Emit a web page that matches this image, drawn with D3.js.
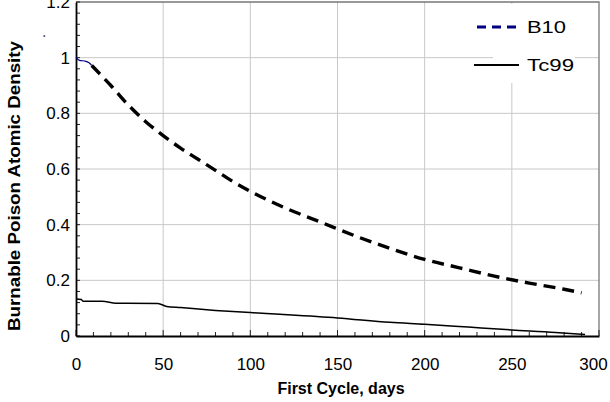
<!DOCTYPE html>
<html>
<head>
<meta charset="utf-8">
<script src="https://cdn.jsdelivr.net/npm/d3@7"></script>
<style>
body { margin: 0; background: #fff; }
svg { display: block; font-family: "Liberation Sans", Arial, sans-serif; }
</style>
</head>
<body>
<div id="chart"></div>
<script>
// B10 - thin start segment, then the thick dashed part
const b10Days = [0, 2, 5, 7.5, 9, 20, 30, 40, 50, 60, 70, 80, 90, 100, 120, 140, 160, 180, 200, 220, 240, 260, 280, 290];
const b10Vals = [1.0, 0.99, 0.988, 0.982, 0.972, 0.9, 0.83, 0.77, 0.72, 0.675, 0.635, 0.595, 0.555, 0.52, 0.46, 0.41, 0.36, 0.315, 0.275, 0.245, 0.215, 0.19, 0.168, 0.155];
const tcDays = [0, 3, 4, 15, 23, 47, 52, 60, 80, 100, 117, 150, 180, 200, 225, 250, 275, 292];
const tcVals = [0.133, 0.131, 0.125, 0.125, 0.118, 0.117, 0.106, 0.102, 0.092, 0.084, 0.078, 0.065, 0.049, 0.042, 0.032, 0.022, 0.013, 0.005];
const xTicks = [0, 50, 100, 150, 200, 250, 300];
const yTicks = [0, 0.2, 0.4, 0.6, 0.8, 1, 1.2];
const yTickLabels = ["0", "0.2", "0.4", "0.6", "0.8", "1", "1.2"];

const width = 610, height = 402;
const margin = { top: 2, right: 11, bottom: 66, left: 76 };

const svg = d3.select("#chart").append("svg")
    .attr("width", width)
    .attr("height", height);

const x = d3.scaleLinear().domain([0, 300]).range([margin.left, width - margin.right]);
const y = d3.scaleLinear().domain([0, 1.2]).range([height - margin.bottom, margin.top]);

// grid
svg.append("g").selectAll("line").data(xTicks.slice(1, -1)).join("line")
    .attr("x1", d => x(d)).attr("x2", d => x(d))
    .attr("y1", y(0)).attr("y2", y(1.2))
    .attr("stroke", "#c8c8c8").attr("stroke-width", 1);
svg.append("g").selectAll("line").data(yTicks.slice(1, -1)).join("line")
    .attr("x1", x(0)).attr("x2", x(300))
    .attr("y1", d => y(d)).attr("y2", d => y(d))
    .attr("stroke", "#c8c8c8").attr("stroke-width", 1);

// legend background hides the grid behind it
svg.append("rect")
    .attr("x", 493).attr("y", 4).attr("width", 82).attr("height", 79)
    .attr("fill", "#fff");

// frame top/right
svg.append("path")
    .attr("d", `M${x(0)},${y(1.2)}H${x(300)}V${y(0)}`)
    .attr("fill", "none").attr("stroke", "#777").attr("stroke-width", 1.3);

// minor + major ticks, pointing inward
const xMinor = d3.range(0, 301, 10);
const yMinor = d3.range(0, 1.201, 0.04);
svg.append("g").selectAll("line").data(xMinor).join("line")
    .attr("x1", d => x(d)).attr("x2", d => x(d))
    .attr("y1", y(0)).attr("y2", d => y(0) - (d % 50 === 0 ? 6 : 4))
    .attr("stroke", "#222").attr("stroke-width", 1);
svg.append("g").selectAll("line").data(yMinor).join("line")
    .attr("y1", d => y(d)).attr("y2", d => y(d))
    .attr("x1", x(0)).attr("x2", x(0) + 4)
    .attr("stroke", "#222").attr("stroke-width", 1);

// axes
const xAxis = svg.append("g")
    .attr("transform", `translate(0,${y(0)})`)
    .call(d3.axisBottom(x).tickValues(xTicks).tickSize(0).tickPadding(22));
xAxis.select(".domain").attr("stroke", "#000").attr("stroke-width", 1.8);
xAxis.selectAll("text").attr("font-size", 17).attr("fill", "#000")
    .attr("font-family", "Liberation Sans, Arial, sans-serif");
// last label is pulled in so it stays on the page
xAxis.selectAll(".tick").filter(d => d === 300).select("text").attr("dx", -6);

const yAxis = svg.append("g")
    .attr("transform", `translate(${x(0)},0)`)
    .call(d3.axisLeft(y).tickValues(yTicks).tickFormat((d, i) => yTickLabels[i]).tickSize(0).tickPadding(6));
yAxis.select(".domain").attr("stroke", "#000").attr("stroke-width", 1.8);
yAxis.selectAll("text").attr("font-size", 17).attr("fill", "#000")
    .attr("font-family", "Liberation Sans, Arial, sans-serif");

// lines
const line = d3.line().curve(d3.curveMonotoneX).x(d => x(d[0])).y(d => y(d[1]));
const b10 = b10Days.map((d, i) => [d, b10Vals[i]]);
const tc = tcDays.map((d, i) => [d, tcVals[i]]);

svg.append("path")
    .attr("d", line(tc))
    .attr("fill", "none").attr("stroke", "#000").attr("stroke-width", 1.5);

svg.append("path")
    .attr("d", line(b10.slice(0, 5)))
    .attr("fill", "none").attr("stroke", "#000080").attr("stroke-width", 1.2);
svg.append("path")
    .attr("d", line(b10.slice(4)))
    .attr("fill", "none").attr("stroke", "#000").attr("stroke-width", 3.4)
    .attr("stroke-dasharray", "12,7");

// legend
const legend = svg.append("g");
legend.append("line")
    .attr("x1", 477).attr("x2", 520).attr("y1", 27).attr("y2", 27)
    .attr("stroke", "#000080").attr("stroke-width", 3).attr("stroke-dasharray", "9,6");
legend.append("text").attr("x", 527).attr("y", 33).attr("font-size", 16)
    .attr("textLength", 39).attr("lengthAdjust", "spacingAndGlyphs").text("B10");
legend.append("line")
    .attr("x1", 474).attr("x2", 519).attr("y1", 65).attr("y2", 65)
    .attr("stroke", "#000").attr("stroke-width", 1.8);
legend.append("text").attr("x", 527).attr("y", 71).attr("font-size", 16)
    .attr("textLength", 47).attr("lengthAdjust", "spacingAndGlyphs").text("Tc99");

// axis titles
svg.append("text")
    .attr("x", 341).attr("y", 394)
    .attr("text-anchor", "middle")
    .attr("font-size", 16).attr("font-weight", "bold")
    .text("First Cycle, days");

svg.append("text")
    .attr("transform", `translate(20,186) rotate(-90)`)
    .attr("text-anchor", "middle")
    .attr("font-size", 17).attr("font-weight", "bold")
    .attr("textLength", 290).attr("lengthAdjust", "spacingAndGlyphs")
    .text("Burnable Poison Atomic Density");

svg.append("text")
    .attr("transform", `translate(45,38) rotate(-90)`)
    .attr("font-size", 14)
    .text(".");
</script>
</body>
</html>
